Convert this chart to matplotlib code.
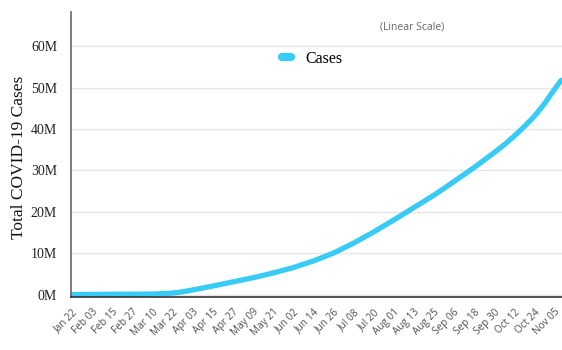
import numpy as np
import matplotlib
matplotlib.use("Agg")
import matplotlib.pyplot as plt

# days since Jan 22 and total cases (millions)
days = [0, 12, 24, 36, 48, 60, 66, 72, 84, 96, 108, 120, 132, 144, 156,
        168, 180, 192, 204, 216, 228, 240, 252, 258, 264, 270, 276, 282,
        288, 292]
cases_m = [0.0, 0.02, 0.07, 0.08, 0.12, 0.34, 0.65, 1.1, 2.05, 3.05, 4.05,
           5.2, 6.5, 8.1, 10.0, 12.4, 15.1, 18.0, 21.0, 24.0, 27.3, 30.7,
           34.3, 36.2, 38.3, 40.6, 43.1, 46.1, 49.6, 51.8]

tick_labels = ["Jan 22", "Feb 03", "Feb 15", "Feb 27", "Mar 10", "Mar 22",
               "Apr 03", "Apr 15", "Apr 27", "May 09", "May 21", "Jun 02",
               "Jun 14", "Jun 26", "Jul 08", "Jul 20", "Aug 01", "Aug 13",
               "Aug 25", "Sep 06", "Sep 18", "Sep 30", "Oct 12", "Oct 24",
               "Nov 05"]
y_ticks = [0, 10, 20, 30, 40, 50, 60]

LINE_COLOR = "#38cbf6"

fig = plt.figure(figsize=(5.62, 3.5), dpi=100)
ax = fig.add_axes([0.1263, 0.1514, 0.8737, 0.8143])

ax.plot(days, cases_m, color=LINE_COLOR, linewidth=3.8,
        solid_capstyle="round", solid_joinstyle="round", label="Cases")

ax.set_xlim(-0.6, 292.5)
ax.set_ylim(-0.6, 68.3)

ax.set_xticks(range(0, 12 * len(tick_labels), 12))
ax.set_xticklabels(tick_labels, rotation=45, ha="right",
                   rotation_mode="anchor", fontsize=7.2, color="#505050",
                   family="Open Sans")
ax.set_yticks(y_ticks)
ax.set_yticklabels([f"{v}M" for v in y_ticks], fontsize=10,
                   family="Liberation Serif", color="#222222")
ax.tick_params(axis="y", length=0, pad=10)
ax.tick_params(axis="x", length=0, pad=7)

ax.grid(axis="y", color="#e6e6e6", linewidth=1)
ax.set_axisbelow(True)
for s in ["top", "right"]:
    ax.spines[s].set_visible(False)
ax.spines["left"].set_color("#666666")
ax.spines["bottom"].set_color("#333333")
ax.spines["left"].set_linewidth(1.2)
ax.spines["bottom"].set_linewidth(1.2)

ax.set_ylabel("Total COVID-19 Cases", fontsize=12.5,
              family="Liberation Serif", color="#111111")
ax.yaxis.set_label_coords(-0.09, 0.49)

ax.text(0.695, 0.94, "(Linear Scale)", transform=ax.transAxes,
        fontsize=7.5, color="#666666", family="Open Sans", ha="center")

leg = ax.legend(loc="center left", bbox_to_anchor=(0.40, 0.835),
                frameon=False, handlelength=0.6, handletextpad=0.9,
                prop={"family": "Liberation Serif", "size": 11.5})
for h in leg.get_lines():
    h.set_linewidth(6)

plt.savefig("out.png", dpi=100)
